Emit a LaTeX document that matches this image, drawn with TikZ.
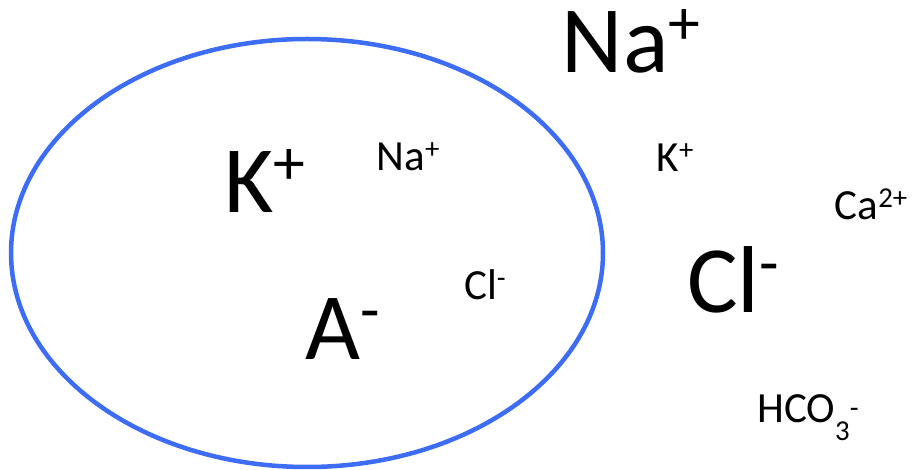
\documentclass[tikz,border=0pt]{standalone}
\usepackage{graphicx}
\usepackage{fontspec}
\setmainfont{Carlito}
\definecolor{cellblue}{RGB}{61,108,245}
\newcommand\ionup[2][0.3em]{\raisebox{#1}{\scalebox{0.67}{#2}}}
\newcommand\iondown[1]{\raisebox{-0.4em}{\scalebox{0.67}{#1}}}
\begin{document}
\begin{tikzpicture}[x=1pt, y=-1pt,
  big/.style={font=\fontsize{95}{100}\selectfont, anchor=base, inner sep=0pt},
  small/.style={font=\fontsize{43}{48}\selectfont, anchor=base, inner sep=0pt}
]
\useasboundingbox (0,0) rectangle (914,470);
\draw[cellblue, line width=4.5pt] (307,253) ellipse [x radius=296, y radius=214];
% inside the cell
\node[big] (kin) at (265,213) {K\ionup{+}};
\node[small] (nain) at (408,171) {Na\ionup{+}};
\node[small] (clin) at (485,300) {Cl\ionup{-}};
\node[big] (ain) at (343,360) {A\ionup{-}};
% outside the cell
\node[big] (naout) at (631,73) {Na\ionup{+}};
\node[small] (kout) at (675,172) {K\ionup{+}};
\node[small] (caout) at (871,220) {Ca\ionup{2+}};
\node[big] (clout) at (733,313) {Cl\ionup{-}};
\node[small] (hcoout) at (808,423) {HCO\iondown{3}\ionup[0.12em]{-}};
\end{tikzpicture}
\end{document}
